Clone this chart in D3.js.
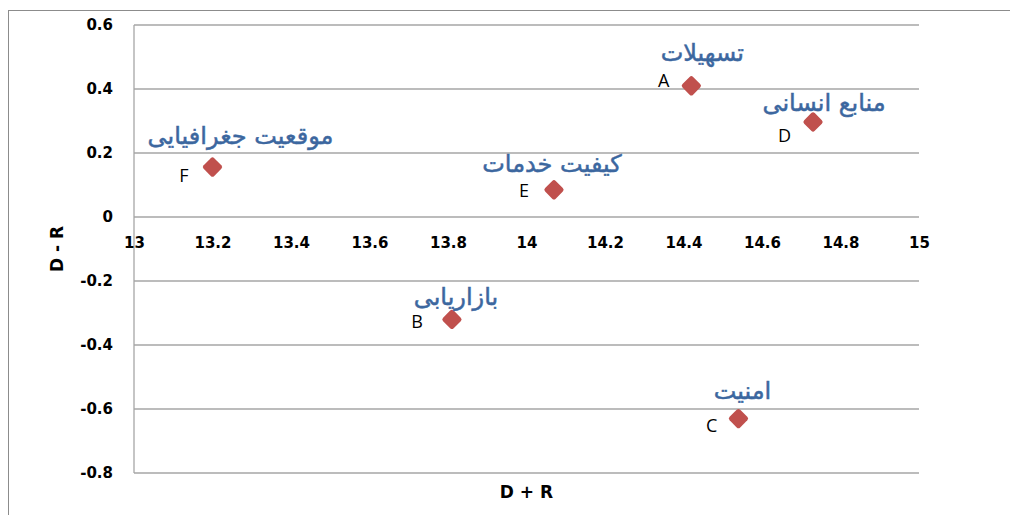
<!DOCTYPE html>
<html>
<head>
<meta charset="utf-8">
<script src="https://cdn.jsdelivr.net/npm/d3@7"></script>
<style>
  body { margin: 0; background: #fff; }
  .axis text { font-family: 'DejaVu Sans', sans-serif; font-weight: bold; font-size: 15px; fill: #000; }
</style>
</head>
<body>
<div id="chart"></div>
<script>
// data
var codes = ['A', 'B', 'C', 'D', 'E', 'F']
var names = ['تسهیلات', 'بازاریابی', 'امنیت', 'منابع انسانی', 'کیفیت خدمات', 'موقعیت جغرافیایی']
var dPlusR = [14.42, 13.81, 14.54, 14.73, 14.07, 13.2]
var dMinusR = [0.41, -0.32, -0.63, 0.297, 0.085, 0.156]
var xTicks = [13, 13.2, 13.4, 13.6, 13.8, 14, 14.2, 14.4, 14.6, 14.8, 15]
var yTicks = [0.6, 0.4, 0.2, 0, -0.2, -0.4, -0.6, -0.8]

// hand placed labels (offsets from the marker), like the original
var codeOffsets = [[-22, 1], [-29, 9], [-21, 13], [-22, 20], [-25, 7], [-24, 15]]
var nameOffsets = [[11, -33], [4, -23], [4, -28], [11, -19], [-2, -26], [28, -31]]

var margin = { top: 25, left: 134, right: 91, bottom: 42 }
var width = 1010 - margin.left - margin.right
var height = 515 - margin.top - margin.bottom

var root = d3
  .select('#chart')
  .append('svg')
  .attr('width', 1010)
  .attr('height', 515)

// outer chart frame
root
  .append('rect')
  .attr('x', 8.5)
  .attr('y', 10.5)
  .attr('width', 1020)
  .attr('height', 520)
  .attr('fill', 'none')
  .attr('stroke', '#8c8c8c')
  .attr('stroke-width', 1)

var svg = root
  .append('g')
  .attr('transform', `translate(${margin.left},${margin.top})`)

let xPositionScale = d3
  .scaleLinear()
  .domain([13, 15])
  .range([0, width])

let yPositionScale = d3
  .scaleLinear()
  .domain([-0.8, 0.6])
  .range([height, 0])

let fmt = d => String(+d.toFixed(1))

/* gridlines */
svg
  .selectAll('.grid')
  .data(yTicks)
  .enter()
  .append('line')
  .attr('class', 'grid')
  .attr('x1', 0)
  .attr('x2', width)
  .attr('y1', d => yPositionScale(d))
  .attr('y2', d => yPositionScale(d))
  .attr('stroke', '#a6a6a6')
  .attr('stroke-width', 1.3)

svg
  .append('line')
  .attr('x1', 0)
  .attr('x2', 0)
  .attr('y1', yPositionScale(0.6))
  .attr('y2', yPositionScale(-0.8))
  .attr('stroke', '#a6a6a6')
  .attr('stroke-width', 1.3)

/* axes */
var xAxis = d3
  .axisBottom(xPositionScale)
  .tickValues(xTicks)
  .tickFormat(fmt)
  .tickSize(0)
  .tickPadding(20)
svg
  .append('g')
  .attr('class', 'axis x-axis')
  .attr('transform', 'translate(0,' + yPositionScale(0) + ')')
  .call(xAxis)
  .call(g => g.select('.domain').remove())

var yAxis = d3
  .axisLeft(yPositionScale)
  .tickValues(yTicks)
  .tickFormat(fmt)
  .tickSize(0)
  .tickPadding(21)
svg
  .append('g')
  .attr('class', 'axis y-axis')
  .call(yAxis)
  .call(g => g.select('.domain').remove())

/* axis titles */
svg
  .append('text')
  .attr('x', width / 2)
  .attr('y', height + 25)
  .attr('text-anchor', 'middle')
  .attr('font-family', 'DejaVu Sans, sans-serif')
  .attr('font-weight', 'bold')
  .attr('font-size', 17)
  .text('D + R')

svg
  .append('text')
  .attr('transform', `translate(${57 - margin.left},${height / 2}) rotate(-90)`)
  .attr('text-anchor', 'middle')
  .attr('dy', '0.35em')
  .attr('font-family', 'DejaVu Sans, sans-serif')
  .attr('font-weight', 'bold')
  .attr('font-size', 17)
  .text('D - R')

/* points */
let points = codes.map((c, i) => ({
  code: c,
  name: names[i],
  x: dPlusR[i],
  y: dMinusR[i],
  co: codeOffsets[i],
  no: nameOffsets[i]
}))

svg
  .selectAll('.point')
  .data(points)
  .enter()
  .append('g')
  .attr('class', 'point')
  .attr('transform', d => `translate(${xPositionScale(d.x)},${yPositionScale(d.y)})`)
  .each(function(d) {
    let g = d3.select(this)
    g.append('rect')
      .attr('x', -7.5)
      .attr('y', -7.5)
      .attr('width', 15)
      .attr('height', 15)
      .attr('rx', 2.5)
      .attr('transform', 'rotate(45)')
      .attr('fill', '#c0504d')
    g.append('text')
      .attr('x', d.co[0])
      .attr('y', d.co[1])
      .attr('text-anchor', 'end')
      .attr('font-family', 'Open Sans, sans-serif')
      .attr('font-size', 18)
      .attr('fill', '#000')
      .text(d.code)
    g.append('text')
      .attr('x', d.no[0])
      .attr('y', d.no[1])
      .attr('dy', '0.35em')
      .attr('text-anchor', 'middle')
      .attr('font-family', 'DejaVu Sans, sans-serif')
      .attr('font-size', 24)
      .attr('fill', '#3c679f')
      .attr('stroke', '#3c679f')
      .attr('stroke-width', 0.5)
      .text(d.name)
  })
</script>
</body>
</html>
